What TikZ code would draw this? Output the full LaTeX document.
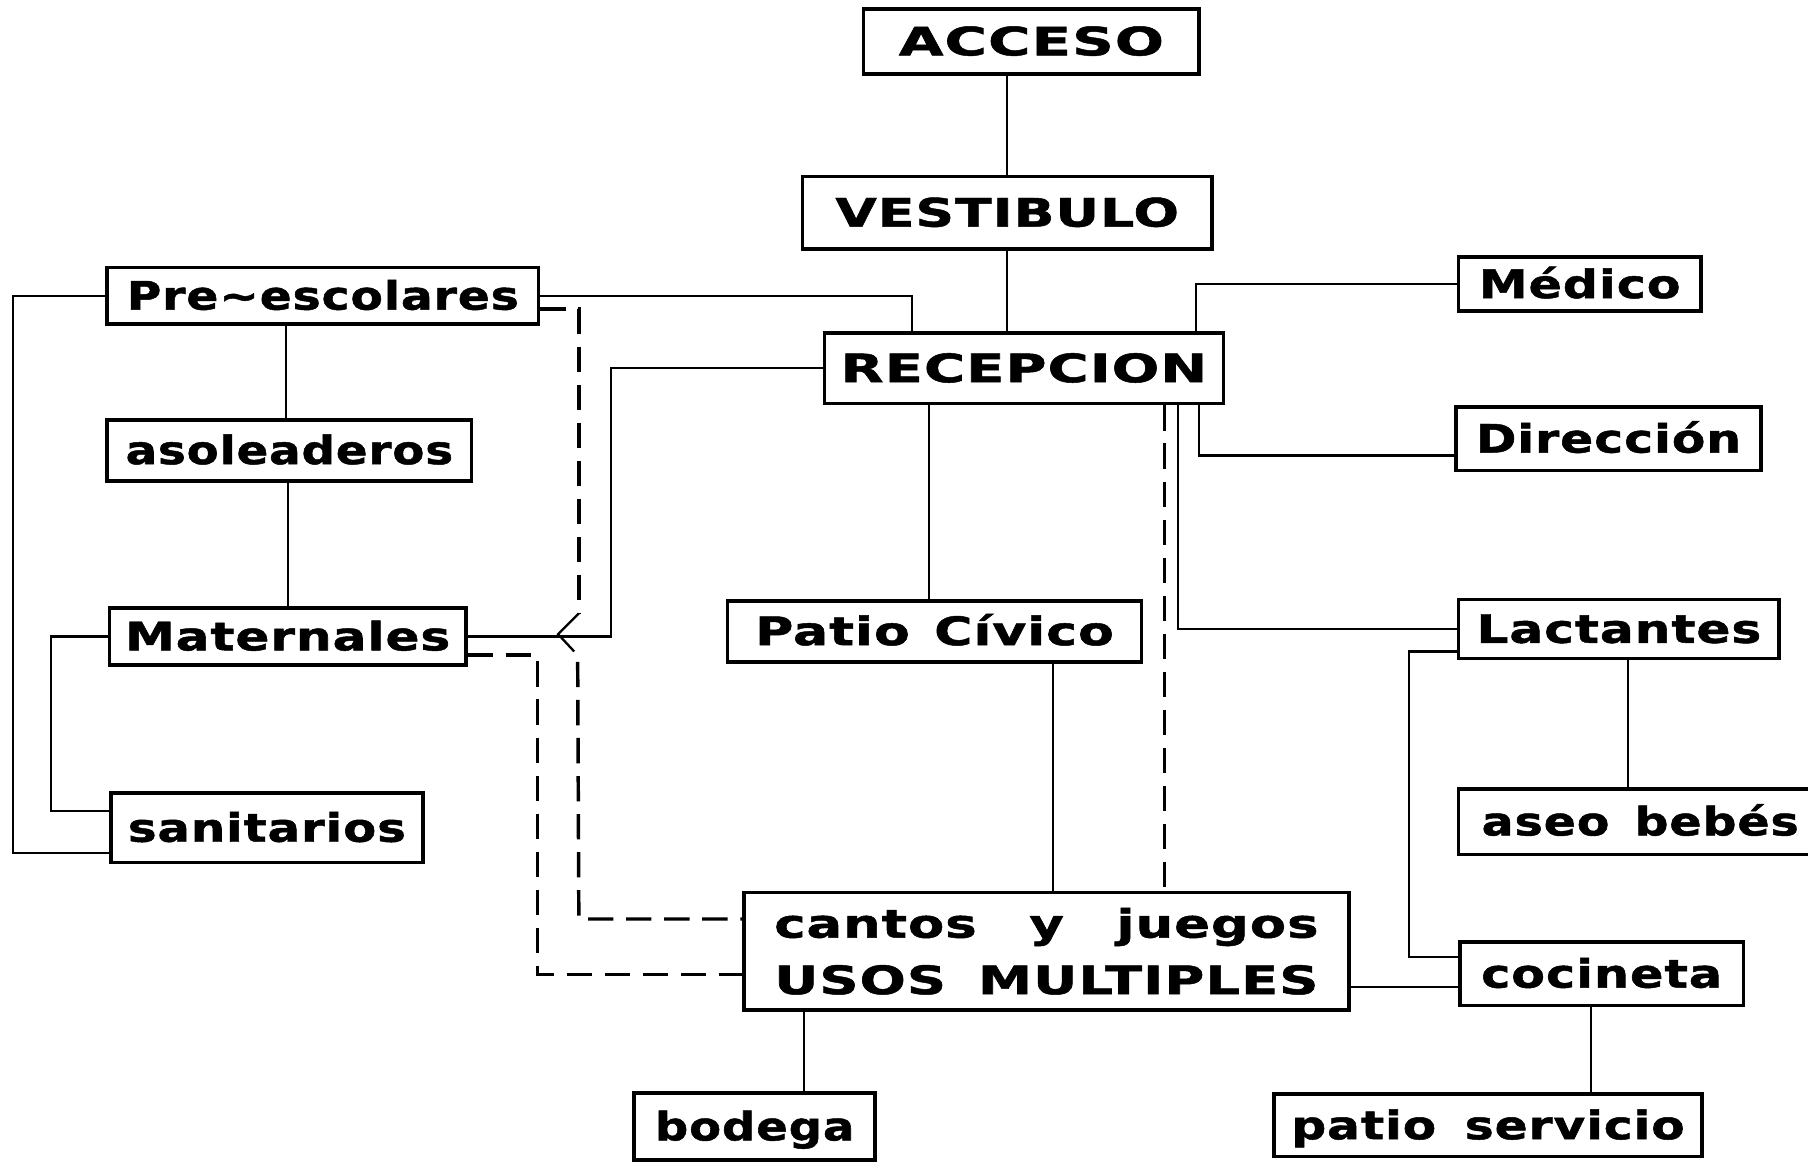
\documentclass[tikz,border=0pt]{standalone}
\usepackage{fontspec}
\usepackage{graphicx}
\usetikzlibrary{calc}
\setmainfont{DejaVu Sans}[LetterSpace=2,BoldFeatures={FakeBold=1.2}]
\newcommand\T[2]{\resizebox{#1pt}{\height}{#2}}
\begin{document}
\begin{tikzpicture}[x=1pt,y=-1pt,
  box/.style={draw, line width=3.2pt, inner sep=0pt, text height=24pt, text depth=0pt,
    font=\fontsize{34}{49}\selectfont\bfseries},
  conn/.style={line width=1.8pt},
  dconn/.style={line width=3pt, dash pattern=on 22pt off 11pt}]
\useasboundingbox (0,0) rectangle (1568,1009);
\fill[white] (0,0) rectangle (1568,1009);
\clip (0,0) rectangle (1568,1009);

% nodes
\node[box, minimum width=291pt, minimum height=56pt] (acceso) at (894.5,36) {\T{230}{ACCESO}};
\node[box, minimum width=355pt, minimum height=63pt] (vest) at (873.5,184.5) {\T{298}{VESTIBULO}};
\node[box, minimum width=346pt, minimum height=61pt] (recep) at (888,319.5) {\T{318}{RECEPCION}};
\node[box, minimum width=210pt, minimum height=47pt] (medico) at (1370,246.5) {\T{175}{Médico}};
\node[box, minimum width=264pt, minimum height=55pt] (direc) at (1395,380.5) {\T{230}{Dirección}};
\node[box, minimum width=374pt, minimum height=49pt] (pre) at (280,256.5) {\T{340}{Pre{\char"7E}escolares}};
\node[box, minimum width=316pt, minimum height=53pt] (asol) at (251,390.5) {\T{284}{asoleaderos}};
\node[box, minimum width=309pt, minimum height=50pt] (mat) at (249.5,552) {\T{282}{Maternales}};
\node[box, minimum width=271pt, minimum height=60pt] (sanit) at (231.5,718) {\T{241}{sanitarios}};
\node[box, minimum width=359pt, minimum height=53pt] (patio) at (810.5,547.5) {\T{311}{Patio\hspace{16pt}Cívico}};
\node[box, minimum width=278pt, minimum height=51pt] (lact) at (1404,545.5) {\T{247}{Lactantes}};
\node[box, minimum width=315pt, minimum height=57pt] (aseo) at (1422.5,712.5) {\T{275}{aseo\hspace{18pt}bebés}};
\node[box, minimum width=525pt, minimum height=102pt, text height=, text depth=, align=center] (usos) at (907.5,825)
  {\T{472}{cantos\hspace{34pt}y\hspace{34pt}juegos}\\\T{472}{USOS\hspace{20pt}MULTIPLES}};
\node[box, minimum width=246pt, minimum height=55pt] (cocin) at (1389,844.5) {\T{209}{cocineta}};
\node[box, minimum width=209pt, minimum height=58pt] (bodega) at (654.5,977) {\T{173}{bodega}};
\node[box, minimum width=371pt, minimum height=54pt] (patserv) at (1290.5,976) {\T{341}{patio\hspace{20pt}servicio}};

% solid connectors
\draw[conn] (acceso.south -| vest.north) -- (vest.north);
\draw[conn] (vest.south) -- (vest.south |- recep.north);
\draw[conn] (pre.east) -| (recep.north -| 791,0);
\draw[conn] (mat.east) -| (recep.west -| 530,0) -- (recep.west);
\draw[conn] (recep.north -| 1037,0) |- (medico.west);
\draw[conn] (recep.south -| 1040,0) |- (direc.west |- 0,395);
\draw[conn] (recep.south -| 1022,0) |- (lact.west);
\draw[conn] (recep.south -| 806,0) -- (patio.north -| 806,0);
\draw[conn] (patio.south -| 913,0) -- (usos.north -| 913,0);
\draw[conn] (pre.south -| 248,0) -- (asol.north -| 248,0);
\draw[conn] (asol.south -| 250,0) -- (mat.north -| 250,0);
\draw[conn] (pre.west) -| (11,740) -- (sanit.west |- 0,740);
\draw[conn] (mat.west) -| (44,703) -- (sanit.west |- 0,703);
\draw[conn] (lact.south -| 1412,0) -- (aseo.north -| 1412,0);
\draw[conn] (lact.west |- 0,565) -| (1222,830) -- (cocin.west |- 0,830);
\draw[conn] (usos.east |- 0,856) -- (cocin.west |- 0,856);
\draw[conn] (cocin.south -| 1380,0) -- (patserv.north -| 1380,0);
\draw[conn] (usos.south -| 697,0) -- (bodega.north -| 697,0);

% dashed connectors
\draw[dconn] (recep.south -| 1010,0) -- (usos.north -| 1010,0);
\coordinate (pa) at (502,532);
\coordinate (pb) at (498,565);
\coordinate (pc) at (501,574);
\draw[dconn] (pre.east |- 0,268) -- (502,268) -- (pa);
\draw[dconn] (pc) -- (502,797) -- (usos.west |- 0,797);
\draw[line width=2pt] (pa) -- (484,550) -- (pb);
\draw[dconn] (mat.east |- 0,568) -- (466,568) -- (466,845) -- (usos.west |- 0,845);
\end{tikzpicture}
\end{document}
